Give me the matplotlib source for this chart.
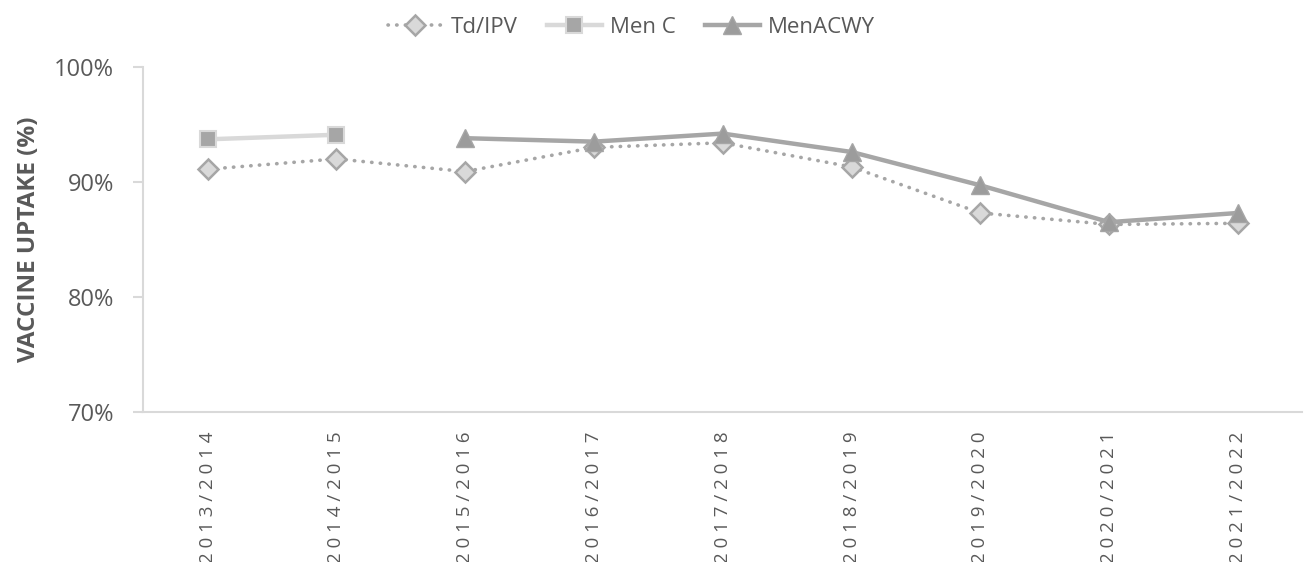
import numpy as np
import matplotlib
matplotlib.use("Agg")
import matplotlib.pyplot as plt
from matplotlib.ticker import PercentFormatter

plt.rcParams['font.family'] = ['Open Sans', 'DejaVu Sans']

seasons = ["2013/2014", "2014/2015", "2015/2016", "2016/2017", "2017/2018",
           "2018/2019", "2019/2020", "2020/2021", "2021/2022"]
td_ipv = [91.1, 92.0, 90.9, 93.0, 93.4, 91.3, 87.3, 86.3, 86.4]
men_c = [93.7, 94.1, np.nan, np.nan, np.nan, np.nan, np.nan, np.nan, np.nan]
men_acwy = [np.nan, np.nan, 93.8, 93.5, 94.2, 92.6, 89.7, 86.5, 87.3]

txt = "#595959"
light = "#D9D9D9"
mid = "#A6A6A6"

fig = plt.figure(figsize=(13.13, 5.62), dpi=100)
ax = fig.add_axes([0.109, 0.267, 0.883, 0.614])

x = np.arange(len(seasons))
ax.plot(x, td_ipv, linestyle=(0, (0.1, 2.3)), dash_capstyle='round', color=mid, linewidth=2.6,
        marker='D', markersize=10.5, markerfacecolor=light, markeredgecolor=mid,
        markeredgewidth=1.8, label="Td/IPV")
ax.plot(x, men_c, color=light, linewidth=3.2, marker='s', markersize=11.5,
        markerfacecolor=mid, markeredgecolor=light, markeredgewidth=1.5,
        label="Men C")
ax.plot(x, men_acwy, color=mid, linewidth=3.2, marker='^', markersize=12.5,
        markerfacecolor="#9C9C9C", markeredgecolor=mid, markeredgewidth=1,
        label="MenACWY")

ax.set_xlim(-0.5, len(seasons) - 0.5)
ax.set_ylim(70, 100)
ax.set_yticks([70, 80, 90, 100])
ax.yaxis.set_major_formatter(PercentFormatter(decimals=0))

# Excel-style letter spacing on the category labels
spaced = [" ".join(s) for s in seasons]
ax.set_xticks(x)
ax.set_xticklabels(spaced, rotation=90, va='top')

for s in ["top", "right"]:
    ax.spines[s].set_visible(False)
for s in ["left", "bottom"]:
    ax.spines[s].set_color(light)
    ax.spines[s].set_linewidth(1.5)

ax.tick_params(axis='y', colors=light, labelcolor=txt, labelsize=17,
               length=7, width=1.5, pad=14)
ax.tick_params(axis='x', length=0, labelcolor=txt, labelsize=13.5, pad=14)

ax.set_ylabel("VACCINE UPTAKE (%)", fontsize=17.5, fontweight='bold',
              color=txt, labelpad=9.5)

leg = ax.legend(loc='center', bbox_to_anchor=(0.421, 1.115), ncol=3,
                frameon=False, fontsize=16, handlelength=2.5,
                columnspacing=1.3, handletextpad=0.35)
for t in leg.get_texts():
    t.set_color(txt)

fig.savefig("out.png", dpi=100)
